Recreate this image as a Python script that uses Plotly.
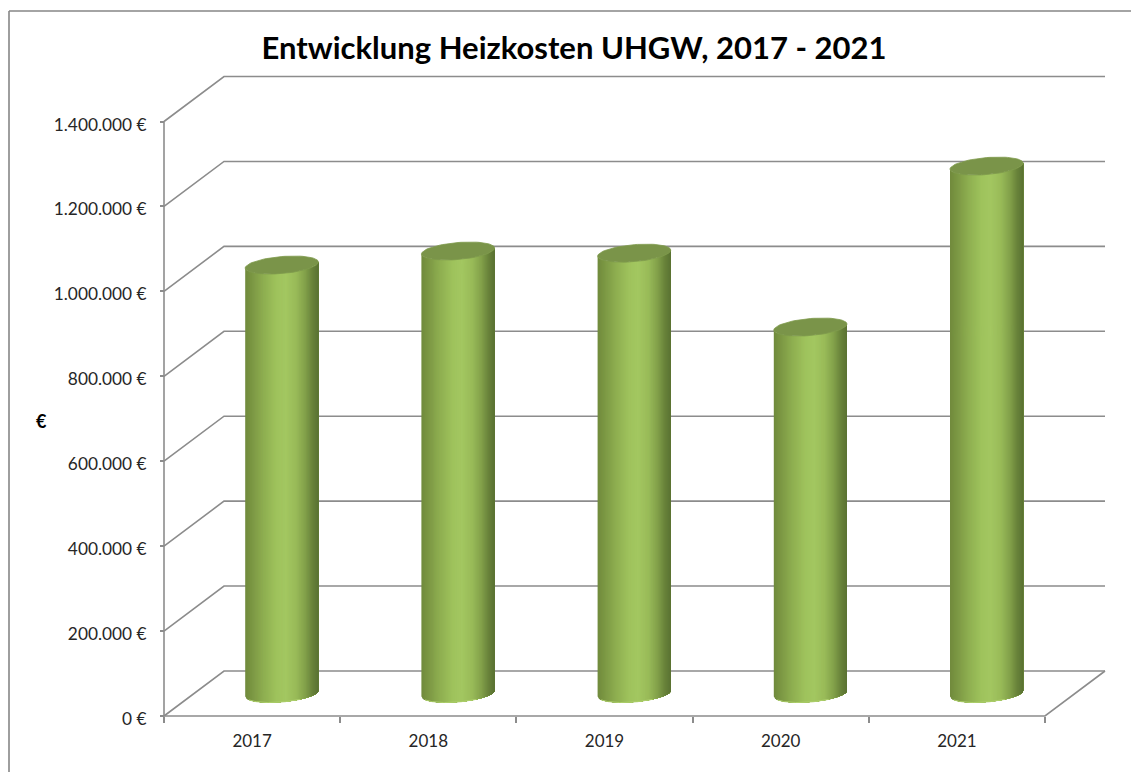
import math
import plotly.graph_objects as go

# Heating cost per year
years = ["2017", "2018", "2019", "2020", "2021"]
costs = [1009000, 1042000, 1037000, 863000, 1242000]
y_ticks = [0, 200000, 400000, 600000, 800000, 1000000, 1200000, 1400000]
y_tick_labels = ["0 €", "200.000 €", "400.000 €", "600.000 €", "800.000 €",
                 "1.000.000 €", "1.200.000 €", "1.400.000 €"]

title_text = "Entwicklung Heizkosten UHGW, 2017 - 2021"
axis_label = "€"

WIDTH, HEIGHT = 1131, 772
FONT = "Lato"
GREY = "#8c8c8c"
TEXT = "#262626"

# Plot area in pixels, and the scale of both axes
PLOT_L, PLOT_R, PLOT_T, PLOT_B = 150, 1118, 60, 730
ORIGIN_X, ORIGIN_Y = 164, 716
PX_PER_CAT = 176.2
EUR_PER_PX = 1400000 / 594.5


def dx(px):
    return px / PX_PER_CAT


def dy(px):
    return px * EUR_PER_PX


# Oblique depth of the floor and wall, in pixels
DEPTH_X, DEPTH_Y = 60, 45
# Cylinder radius and ellipse shape, in pixels
RADIUS, MINOR, TILT = 36.6, 8.5, 3.0
STRIPS = 70

x_start = -0.5
x_end = x_start + len(years)
x_range = [x_start - dx(ORIGIN_X - PLOT_L), x_start + dx(PLOT_R - ORIGIN_X)]
y_range = [-dy(PLOT_B - ORIGIN_Y), dy(ORIGIN_Y - PLOT_T)]

SHADE_STOPS = [
    (0.00, (112, 138, 60)),
    (0.10, (124, 152, 68)),
    (0.25, (142, 174, 80)),
    (0.42, (158, 194, 92)),
    (0.55, (163, 199, 97)),
    (0.70, (152, 186, 88)),
    (0.82, (130, 160, 74)),
    (0.92, (104, 130, 58)),
    (1.00, (90, 113, 50)),
]


def shade(u):
    for (u0, c0), (u1, c1) in zip(SHADE_STOPS, SHADE_STOPS[1:]):
        if u <= u1:
            f = (u - u0) / (u1 - u0)
            return "rgb(%d,%d,%d)" % tuple(round(a + (b - a) * f) for a, b in zip(c0, c1))
    return "rgb(90,113,50)"


def front_offset(u):
    """Pixels below the ellipse centre of its front rim at fraction u of the width."""
    c = 2 * u - 1
    return -TILT * c + MINOR * math.sqrt(max(0.0, 1 - c * c))


fig = go.Figure()


def add_line(xs, ys):
    fig.add_trace(go.Scatter(x=xs, y=ys, mode="lines", hoverinfo="skip",
                             line=dict(color=GREY, width=1.6), showlegend=False))


# Walls: one bent gridline per tick, from the front axis to the back wall
back_x, back_y = dx(DEPTH_X), dy(DEPTH_Y)
for v in y_ticks:
    add_line([x_start, x_start + back_x, x_end + back_x], [v, v + back_y, v + back_y])

# Floor edge and the two front axis lines
add_line([x_end + back_x, x_end, x_start], [back_y, 0, 0])
add_line([x_start, x_start], [0, y_ticks[-1]])

# Cylinder bodies: each shade is painted from its own column to the right edge,
# so the next shade covers it and no seams show between columns
for k in range(STRIPS):
    u0 = k / STRIPS
    steps = [u0 + (1 - u0) * j / 40 for j in range(41)]
    xs, ys = [], []
    for i, value in enumerate(costs):
        cx = i + dx(DEPTH_X / 2) - dx(0.3)
        base = dy(DEPTH_Y / 2)
        top = value + base
        rim_xs = [cx + dx(RADIUS * (2 * u - 1)) for u in steps]
        xs += rim_xs + rim_xs[::-1] + [rim_xs[0], None]
        ys += [base - dy(front_offset(u)) for u in steps]
        ys += [top - dy(front_offset(u)) for u in reversed(steps)]
        ys += [base - dy(front_offset(u0)), None]
    fig.add_trace(go.Scatter(x=xs, y=ys, mode="none", fill="toself",
                             fillcolor=shade(u0 + 0.5 / STRIPS), hoverinfo="skip",
                             showlegend=False))

# Lighter rim along the lit part of each cylinder's foot, then the top faces
for i, value in enumerate(costs):
    cx = i + dx(DEPTH_X / 2) - dx(0.3)
    base = dy(DEPTH_Y / 2)
    rim_x = [cx + dx(RADIUS * (2 * j / 60 - 1)) for j in range(3, 46)]
    rim_y = [base - dy(front_offset(j / 60)) for j in range(3, 46)]
    fig.add_trace(go.Scatter(x=rim_x, y=rim_y, mode="lines", hoverinfo="skip", showlegend=False,
                             line=dict(color="#aed06c", width=1.0)))

    angles = [2 * math.pi * j / 72 for j in range(73)]
    top_x = [cx + dx(RADIUS * math.cos(t)) for t in angles]
    top_y = [value + base - dy(-TILT * math.cos(t) - MINOR * math.sin(t)) for t in angles]
    fig.add_trace(go.Scatter(x=top_x, y=top_y, mode="lines", fill="toself", fillcolor="#7a9449",
                             line=dict(color="#7f9a4c", width=0.8), hoverinfo="skip",
                             showlegend=False))

fig.update_layout(
    width=WIDTH,
    height=HEIGHT,
    autosize=False,
    paper_bgcolor="white",
    plot_bgcolor="rgba(0,0,0,0)",
    showlegend=False,
    margin=dict(l=PLOT_L, r=WIDTH - PLOT_R, t=PLOT_T, b=HEIGHT - PLOT_B, pad=0),
    font=dict(family=FONT, color=TEXT),
    title=dict(
        text="<b>%s</b>" % title_text,
        font=dict(family=FONT, size=31, color="#000000"),
        x=574 / WIDTH, xanchor="center",
        y=1 - 48 / HEIGHT, yanchor="middle",
    ),
    xaxis=dict(
        range=x_range,
        anchor="free",
        position=(PLOT_B - ORIGIN_Y) / (PLOT_B - PLOT_T),
        tickmode="array",
        tickvals=list(range(len(years))),
        ticktext=years,
        ticks="",
        ticklabelstandoff=13,
        tickfont=dict(family=FONT, size=17, color=TEXT),
        showgrid=False,
        zeroline=False,
        showline=False,
        minor=dict(
            tickmode="array",
            tickvals=[x_start + j for j in range(len(years) + 1)],
            ticks="outside",
            ticklen=6,
            tickwidth=1.6,
            tickcolor=GREY,
            showgrid=False,
        ),
    ),
    yaxis=dict(
        range=y_range,
        anchor="free",
        position=(ORIGIN_X - PLOT_L) / (PLOT_R - PLOT_L),
        tickmode="array",
        tickvals=y_ticks,
        ticktext=y_tick_labels,
        ticks="outside",
        ticklen=4,
        tickwidth=1.6,
        tickcolor=GREY,
        ticklabelstandoff=10,
        ticklabelshift=3,
        tickfont=dict(family=FONT, size=17.3, color=TEXT),
        showgrid=False,
        zeroline=False,
        showline=False,
    ),
    annotations=[
        dict(text="<b>%s</b>" % axis_label, xref="paper", yref="paper",
             x=(41 - PLOT_L) / (PLOT_R - PLOT_L), y=(PLOT_B - 421) / (PLOT_B - PLOT_T),
             xanchor="center", yanchor="middle",
             showarrow=False, font=dict(family=FONT, size=18, color="#000000")),
    ],
    shapes=[
        # Chart frame, visible along the left and top edges
        dict(type="line", xref="paper", yref="paper", line=dict(color="#868686", width=1.6),
             x0=(9 - PLOT_L) / (PLOT_R - PLOT_L), x1=(9 - PLOT_L) / (PLOT_R - PLOT_L),
             y0=(PLOT_B - 11) / (PLOT_B - PLOT_T), y1=(PLOT_B - HEIGHT) / (PLOT_B - PLOT_T)),
        dict(type="line", xref="paper", yref="paper", line=dict(color="#868686", width=1.6),
             x0=(9 - PLOT_L) / (PLOT_R - PLOT_L), x1=(WIDTH - PLOT_L) / (PLOT_R - PLOT_L),
             y0=(PLOT_B - 11) / (PLOT_B - PLOT_T), y1=(PLOT_B - 11) / (PLOT_B - PLOT_T)),
    ],
)

fig.write_html("out.html")
